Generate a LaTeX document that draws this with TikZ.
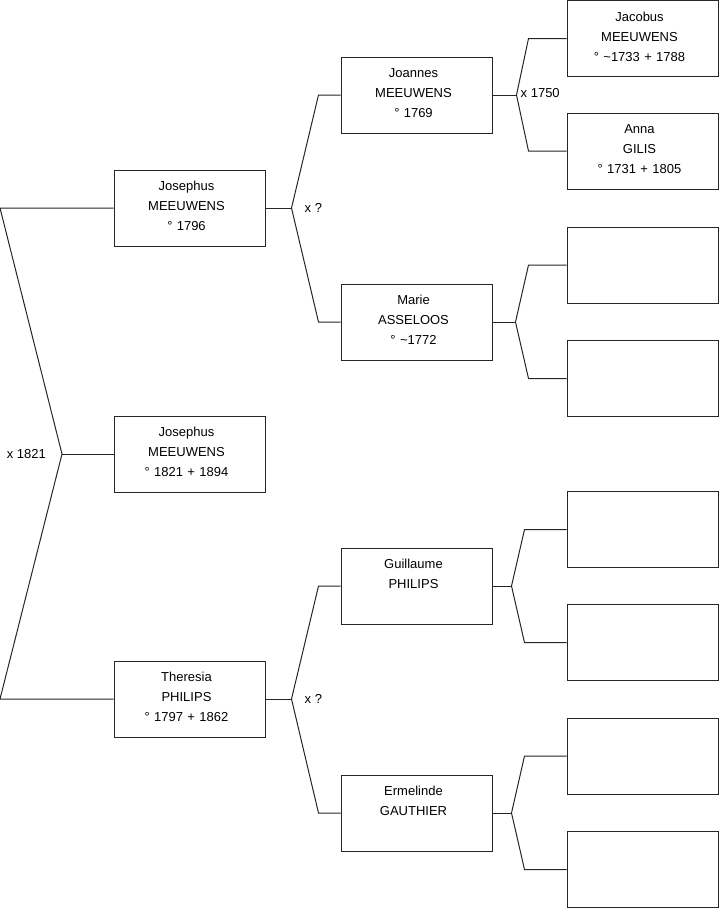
\documentclass[tikz,border=0pt]{standalone}
\usepackage{fontspec}
\setmainfont{Liberation Sans}
\usetikzlibrary{positioning}
\definecolor{treeink}{HTML}{262626}

\begin{document}
\begin{tikzpicture}[
  x=1pt, y=-1pt,
  font=\fontsize{13}{20}\selectfont,
  card/.style={
    draw=treeink,
    line width=1pt,
    minimum width=151pt,
    minimum height=76pt,
    inner sep=0pt
  },
  cardtext/.style={
    anchor=base,
    xshift=-3pt,
    yshift=-21pt,
    text width=151pt,
    align=center,
    inner sep=0pt
  },
  personcard/.style={card, label={[cardtext]north:{#1}}},
  treeline/.style={draw=treeink, line width=1pt},
  marriage/.style={inner sep=0pt}
]
  \useasboundingbox (0,0) rectangle (719,908);

  % --- child ---
  \node[personcard={Josephus\\MEEUWENS\\° 1821 + 1894}] (child) at (189.5,454) {};

  % --- parents ---
  \node[personcard={Josephus\\MEEUWENS\\° 1796}] (father) at (189.5,208) {};
  \node[personcard={Theresia\\PHILIPS\\° 1797 + 1862}] (mother) at (189.5,699) {};

  % --- grandparents ---
  \node[personcard={Joannes\\MEEUWENS\\° 1769}] (joannes) at (416.5,95) {};
  \node[personcard={Marie\\ASSELOOS\\° \textasciitilde1772}] (marie) at (416.5,322) {};
  \node[personcard={Guillaume\\PHILIPS}] (guillaume) at (416.5,586) {};
  \node[personcard={Ermelinde\\GAUTHIER}] (ermelinde) at (416.5,813) {};

  % --- great-grandparents ---
  \node[personcard={Jacobus\\MEEUWENS\\° \textasciitilde1733 + 1788}] (jacobus) at (642.5,38.5) {};
  \node[personcard={Anna\\GILIS\\° 1731 + 1805}] (anna) at (642.5,151) {};
  \node[card] (emptyA) at (642.5,265) {};
  \node[card] (emptyB) at (642.5,378.5) {};
  \node[card] (emptyC) at (642.5,529.5) {};
  \node[card] (emptyD) at (642.5,642.5) {};
  \node[card] (emptyE) at (642.5,756) {};
  \node[card] (emptyF) at (642.5,869.5) {};

  % --- marriage forks ---
  \coordinate (leftrail) at (0,0);
  \coordinate (wedP) at (62,454);
  \coordinate (wedF) at ([xshift=26pt]father.east);
  \coordinate (wedM) at ([xshift=26pt]mother.east);
  \coordinate (wedJ) at ([xshift=24pt]joannes.east);
  \coordinate (wedA) at ([xshift=23pt]marie.east);
  \coordinate (wedG) at ([xshift=19pt]guillaume.east);
  \coordinate (wedE) at ([xshift=19pt]ermelinde.east);

  \draw[treeline] (father.west) -- (father.west -| leftrail) -- (wedP)
    -- (mother.west -| leftrail) -- (mother.west);
  \draw[treeline] (wedP) -- (child.west);
  \node[marriage, anchor=east] (x1821) at ([xshift=-16pt]wedP) {x 1821};

  \draw[treeline] (father.east) -- (wedF);
  \draw[treeline] (joannes.west) -- ([xshift=-22pt]joannes.west) -- (wedF)
    -- ([xshift=-22pt]marie.west) -- (marie.west);
  \node[marriage, anchor=west] (xfather) at ([xshift=13pt]wedF) {x ?};

  \draw[treeline] (mother.east) -- (wedM);
  \draw[treeline] (guillaume.west) -- ([xshift=-22pt]guillaume.west) -- (wedM)
    -- ([xshift=-22pt]ermelinde.west) -- (ermelinde.west);
  \node[marriage, anchor=west] (xmother) at ([xshift=13pt]wedM) {x ?};

  \draw[treeline] (joannes.east) -- (wedJ);
  \draw[treeline] (jacobus.west) -- ([xshift=-38pt]jacobus.west) -- (wedJ)
    -- ([xshift=-38pt]anna.west) -- (anna.west);
  \node[marriage, anchor=west, yshift=2pt] (x1750) at ([xshift=4pt]wedJ) {x 1750};

  \draw[treeline] (marie.east) -- (wedA);
  \draw[treeline] (emptyA.west) -- ([xshift=-38pt]emptyA.west) -- (wedA)
    -- ([xshift=-38pt]emptyB.west) -- (emptyB.west);

  \draw[treeline] (guillaume.east) -- (wedG);
  \draw[treeline] (emptyC.west) -- ([xshift=-42pt]emptyC.west) -- (wedG)
    -- ([xshift=-42pt]emptyD.west) -- (emptyD.west);

  \draw[treeline] (ermelinde.east) -- (wedE);
  \draw[treeline] (emptyE.west) -- ([xshift=-42pt]emptyE.west) -- (wedE)
    -- ([xshift=-42pt]emptyF.west) -- (emptyF.west);

\end{tikzpicture}
\end{document}
